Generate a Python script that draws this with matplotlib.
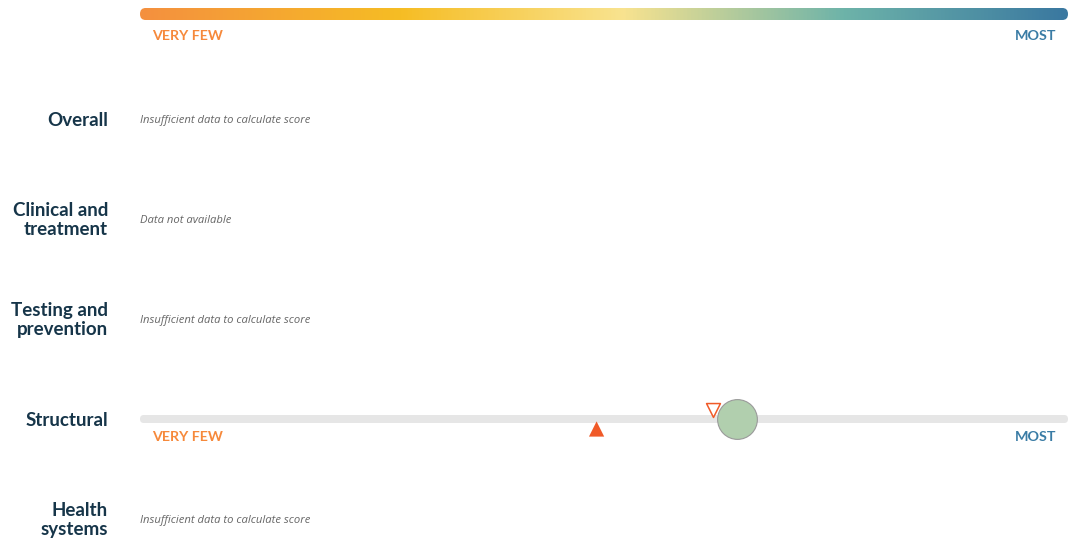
import numpy as np
import matplotlib.pyplot as plt
from matplotlib.colors import LinearSegmentedColormap
from matplotlib.patches import FancyBboxPatch

# rows of the scorecard
categories = ["Overall", "Clinical and\ntreatment", "Testing and\nprevention",
              "Structural", "Health\nsystems"]
notes = ["Insufficient data to calculate score", "Data not available",
         "Insufficient data to calculate score", None,
         "Insufficient data to calculate score"]
scores = [None, None, None, 64.3, None]          # green circle
region_avg = [None, None, None, 49.2, None]      # filled triangle
prev_score = [None, None, None, 61.7, None]      # hollow triangle
low_label, high_label = "VERY FEW", "MOST"

grad_colors = ["#f4903f", "#f6bd24", "#f9e38f", "#6db3a9", "#3a78a0"]
grad_stops = [0.0, 0.28, 0.52, 0.76, 1.0]
NAVY = "#163549"
ORANGE = "#f6893b"
BLUE = "#3a7ca5"
RED = "#f05a28"

fig = plt.figure(figsize=(10.68, 5.39), dpi=100)
ax = fig.add_axes([140 / 1068, 0, 928 / 1068, 1])
ax.set_xlim(0, 100)
ax.set_ylim(4.20, -1.19)
ax.axis("off")

# gradient legend bar
cmap = LinearSegmentedColormap.from_list("g", list(zip(grad_stops, grad_colors)))
gy0, gy1 = -1.11, -0.99
im = ax.imshow(np.linspace(0, 1, 512)[None, :], cmap=cmap, aspect="auto",
               extent=(0, 100, gy1, gy0), zorder=1)
clip = FancyBboxPatch((0, gy0), 100, gy1 - gy0,
                      boxstyle="round,pad=0,rounding_size=0.6",
                      mutation_aspect=0.1, transform=ax.transData,
                      facecolor="none", edgecolor="none")
ax.add_patch(clip)
im.set_clip_path(clip)
ax.text(1.3, -0.83, low_label, color=ORANGE, fontsize=10.3, fontweight="bold",
        family="Lato", va="center", ha="left")
ax.text(98.8, -0.83, high_label, color=BLUE, fontsize=10.3, fontweight="bold",
        family="Lato", va="center", ha="right")

for i, cat in enumerate(categories):
    ax.text(-3.45, i + 0.01, cat, ha="right", va="center", fontsize=13.5,
            fontweight="bold", color=NAVY, family="Lato", linespacing=1.2,
            clip_on=False)
    if notes[i] is not None:
        ax.text(0, i + 0.015, notes[i], ha="left", va="center", fontsize=8.1,
                style="italic", color="#666666", family="Open Sans")
    if scores[i] is not None:
        track = FancyBboxPatch((0, i - 0.04), 100, 0.08,
                               boxstyle="round,pad=0,rounding_size=0.4",
                               mutation_aspect=0.1, facecolor="#e6e6e6",
                               edgecolor="none", zorder=1)
        ax.add_patch(track)
        ax.text(1.3, i + 0.18, low_label, color=ORANGE, fontsize=10.3,
                fontweight="bold", family="Lato", va="center", ha="left")
        ax.text(98.8, i + 0.18, high_label, color=BLUE, fontsize=10.3,
                fontweight="bold", family="Lato", va="center", ha="right")
        ax.scatter([region_avg[i]], [i + 0.1], marker="^", s=120,
                   color=RED, edgecolor="none", zorder=3)
        ax.scatter([prev_score[i]], [i - 0.09], marker="v", s=100,
                   facecolor="white", edgecolor=RED, linewidth=1.1, zorder=3)
        ax.scatter([scores[i]], [i], s=820, color="#b1cfae",
                   edgecolor="#9a9a9a", linewidth=0.8, zorder=4)

fig.savefig("out.png", dpi=100)
